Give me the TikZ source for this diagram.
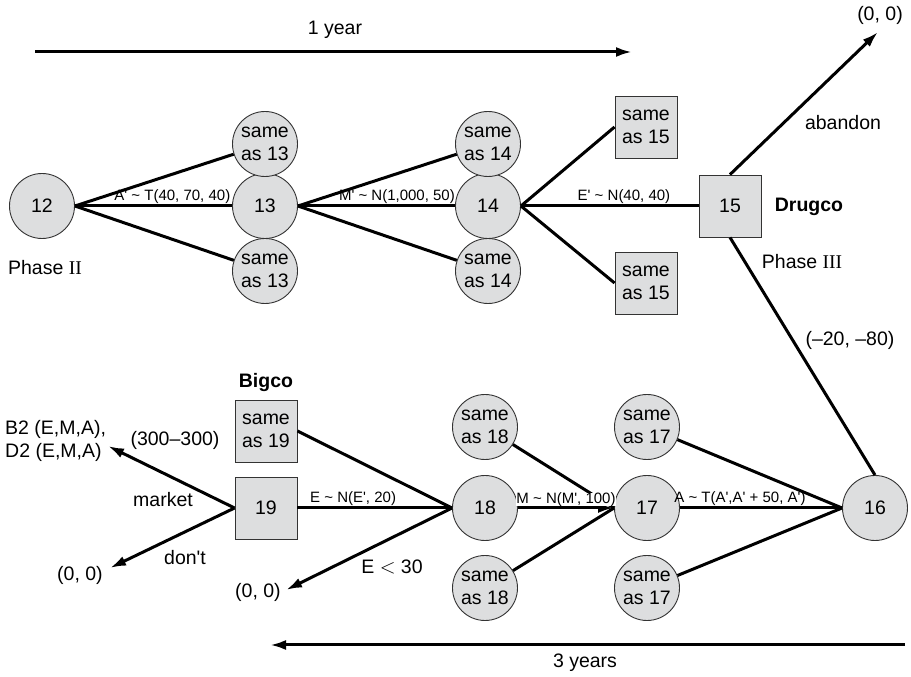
\documentclass[tikz,border=0pt]{standalone}
\usepackage{fontspec}
\setmainfont{Liberation Sans}
\newfontfamily\romanfont{Liberation Serif}
\usepackage{tikz}
\usetikzlibrary{shapes.geometric, arrows, arrows.meta, positioning}
\definecolor{nodegray}{RGB}{221,222,223}
\newcommand{\bigtxt}{\fontsize{19.5}{23.5}\selectfont}
\newcommand{\smalltxt}{\fontsize{15}{17}\selectfont}
\newcommand{\pri}{\textquotesingle}
\tikzstyle{chance} = [circle, draw=black!80, line width=0.9pt, fill=nodegray, minimum size=65pt, inner sep=0pt, align=center, font=\bigtxt]
\tikzstyle{decision} = [rectangle, draw=black!80, line width=0.9pt, fill=nodegray, minimum width=62pt, minimum height=62pt, inner sep=0pt, align=center, font=\bigtxt]
\tikzstyle{branch} = [draw, line width=3pt]
\tikzstyle{line} = [branch, -{Latex[length=16pt,width=10pt]}]
\tikzstyle{lbl} = [font=\smalltxt, inner sep=1pt]
\tikzstyle{txt} = [font=\bigtxt, inner sep=0pt]

\begin{document}
\begin{tikzpicture}[x=1pt, y=1pt]
    \useasboundingbox (0,0) rectangle (911,677);
    % Nodes
    \node [chance] (n12) at (42,471) {12};
    \node [chance, right of=n12, node distance=223pt] (n13) {13};
    \node [chance, above of=n13, node distance=62pt] (s13a) {same\\as 13};
    \node [chance, below of=n13, node distance=65pt] (s13b) {same\\as 13};
    \node [chance, right of=n13, node distance=223pt] (n14) {14};
    \node [chance, above of=n14, node distance=62pt] (s14a) {same\\as 14};
    \node [chance, below of=n14, node distance=65pt] (s14b) {same\\as 14};
    \node [decision, right of=n14, node distance=158pt, yshift=79pt] (s15a) {same\\as 15};
    \node [decision, right of=n14, node distance=158pt, yshift=-77pt] (s15b) {same\\as 15};
    \node [decision, right of=n14, node distance=242pt] (n15) {15};
    \node [chance, below of=n15, node distance=302pt, xshift=145pt] (n16) {16};
    \node [chance, left of=n16, node distance=228pt] (n17) {17};
    \node [chance, above of=n17, node distance=81pt] (s17a) {same\\as 17};
    \node [chance, below of=n17, node distance=80pt] (s17b) {same\\as 17};
    \node [chance, left of=n17, node distance=162pt] (n18) {18};
    \node [chance, above of=n18, node distance=81pt] (s18a) {same\\as 18};
    \node [chance, below of=n18, node distance=80pt] (s18b) {same\\as 18};
    \node [decision, left of=n18, node distance=219pt] (n19) {19};
    \node [decision, above of=n19, node distance=77pt] (s19) {same\\as 19};

    % Text
    \node [txt] (phase2) at (45,409) {Phase {\romanfont II}};
    \node [txt, font=\bigtxt\bfseries] (drugco) at (809,470) {Drugco};
    \node [txt, font=\bigtxt\bfseries] (bigco) at (266,294) {Bigco};
    \node [txt] (phase3) at (802,415) {Phase {\romanfont III}};
    \node [txt] (pay16) at (850,337) {(–20, –80)};
    \node [txt] (aband) at (843,554) {abandon};
    \node [txt] (zeroA) at (880,662) {(0, 0)};
    \node [txt, align=left, anchor=west] (b2d2) at (5,236) {B2 (E,M,A),\\D2 (E,M,A)};
    \node [txt] (pay19) at (175,237) {(300–300)};
    \node [txt] (market) at (163,177) {market};
    \node [txt] (dont) at (185,119) {don\pri t};
    \node [txt] (zeroB) at (80,102) {(0, 0)};
    \node [txt] (zeroC) at (258,85) {(0, 0)};
    \node [txt] (elow) at (392,110) {E $<$ 30};
    \node [txt] (year1) at (335,647) {1 year};
    \node [txt] (year3) at (585,14) {3 years};
    \coordinate (endA) at (878,645);
    \coordinate (endB) at (108,231);
    \coordinate (endC) at (110,109);
    \coordinate (endD) at (286,87);
    \coordinate (t1a) at (35,625);
    \coordinate (t1b) at (632,625);
    \coordinate (t3a) at (905,32);
    \coordinate (t3b) at (270,32);

    % Edges
    \path [branch] (n12.east) -- (s13a);
    \path [branch] (n12.east) -- node [lbl, above, pos=0.62] {A\pri{} \textasciitilde{} T(40, 70, 40)} (n13.west);
    \path [branch] (n12.east) -- (s13b);
    \path [branch] (n13.east) -- (s14a);
    \path [branch] (n13.east) -- node [lbl, above, pos=0.63] {M\pri{} \textasciitilde{} N(1,000, 50)} (n14.west);
    \path [branch] (n13.east) -- (s14b);
    \path [branch] (n14.east) -- (s15a.west);
    \path [branch] (n14.east) -- node [lbl, above, pos=0.58] {E\pri{} \textasciitilde{} N(40, 40)} (n15.west);
    \path [branch] (n14.east) -- (s15b.west);
    \path [line] (n15.north) -- (endA);
    \path [branch] (n15.south) -- (n16.north);
    \path [branch] (s17a) -- (n16.west);
    \path [branch] (n17.east) -- node [lbl, above, pos=0.37] {A \textasciitilde{} T(A\pri,A\pri{} + 50, A\pri)} (n16.west);
    \path [branch] (s17b) -- (n16.west);
    \path [branch] (s18a) -- (n17.west);
    \path [line] (n18.east) -- node [lbl, above, pos=0.5, fill=white, inner sep=0pt] {M \textasciitilde{} N(M\pri, 100)} (n17.west);
    \path [branch] (s18b) -- (n17.west);
    \path [branch] (s19.east) -- (n18.west);
    \path [branch] (n19.east) -- node [lbl, above, pos=0.36] {E \textasciitilde{} N(E\pri, 20)} (n18.west);
    \path [line] (n18.west) -- (endD);
    \path [line] (n19.west) -- (endB);
    \path [line] (n19.west) -- (endC);
    \path [line] (t1a) -- (t1b);
    \path [line] (t3a) -- (t3b);
\end{tikzpicture}
\end{document}
